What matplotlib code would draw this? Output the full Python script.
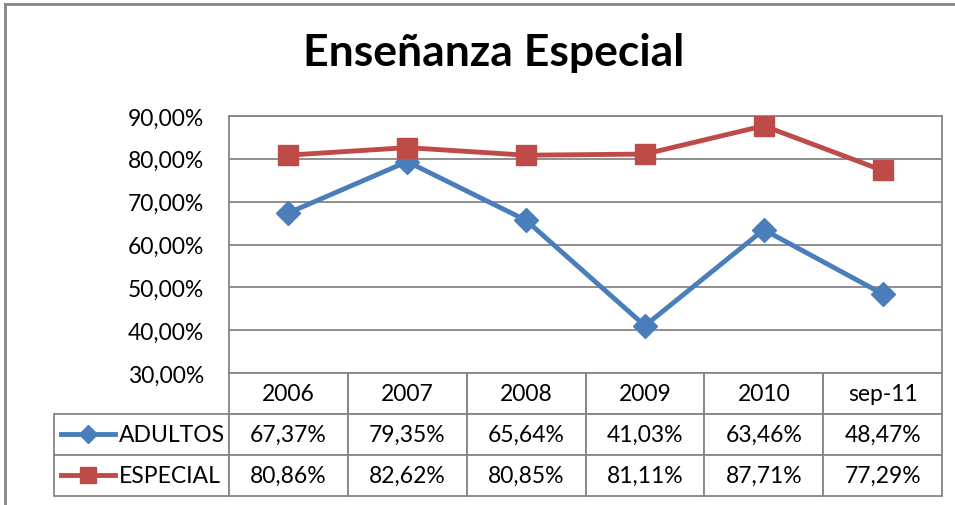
import matplotlib
matplotlib.use("Agg")
import matplotlib.pyplot as plt
from matplotlib.lines import Line2D

categories = ["2006", "2007", "2008", "2009", "2010", "sep-11"]
series_names = ["ADULTOS", "ESPECIAL"]
adultos = [67.37, 79.35, 65.64, 41.03, 63.46, 48.47]
especial = [80.86, 82.62, 80.85, 81.11, 87.71, 77.29]
yticks = [30, 40, 50, 60, 70, 80, 90]
title = "Enseñanza Especial"

colors = ["#4A7EBB", "#BE4B48"]
markers = ["D", "s"]
msizes = [12, 15]

W, H = 955, 506
fig = plt.figure(figsize=(W / 100, H / 100), dpi=100)
fig.patch.set_facecolor("white")
FONT = "Lato"

def fx(px):
    return px / W

def fy(py):
    return 1 - py / H

# outer chart frame (left and top visible)
fig.add_artist(Line2D([fx(5), fx(5)], [fy(5), 0], transform=fig.transFigure, color="#868686", lw=2))
fig.add_artist(Line2D([fx(5), 1], [fy(5), fy(5)], transform=fig.transFigure, color="#868686", lw=2))

L, R, T, B = 229, 942, 117, 374
ax = fig.add_axes([fx(L), fy(B), fx(R - L), (B - T) / H])
x = list(range(len(categories)))
for vals, c, m, ms, name in zip([adultos, especial], colors, markers, msizes, series_names):
    ax.plot(x, vals, color=c, lw=3.5, marker=m, markersize=ms, label=name, zorder=3)

ax.set_xlim(-0.5, len(categories) - 0.5)
ax.set_ylim(30, 90)
ax.set_yticks(yticks)
ax.set_yticklabels([f"{v:.2f}%".replace(".", ",") for v in yticks], fontsize=16.5, family=FONT)
ax.tick_params(axis="y", length=0, pad=18)
ax.set_xticks([])
ax.grid(axis="y", color="#868686", lw=1.3)
for s in ax.spines.values():
    s.set_color("#868686")
    s.set_linewidth(1.3)

fig.text(fx(494), fy(53), title, ha="center", va="center", fontsize=32, fontweight="bold", family=FONT)

# data table
rows = [[""] + categories]
for name, vals in zip(series_names, [adultos, especial]):
    rows.append([name] + [f"{v:.2f}%".replace(".", ",") for v in vals])

TL, TB = 54, 497
tbl_w = R - TL
tbl = ax.table(cellText=rows,
               colWidths=[(L - TL) / tbl_w] + [(R - L) / 6 / tbl_w] * 6,
               cellLoc="center",
               bbox=[(TL - L) / (R - L), -(TB - B) / (B - T), (R - TL) / (R - L), (TB - B) / (B - T)])
tbl.auto_set_font_size(False)
for (r, c), cell in tbl.get_celld().items():
    cell.set_edgecolor("#868686")
    cell.set_linewidth(1.3)
    cell.get_text().set_fontsize(16.5)
    cell.get_text().set_family(FONT)
    if r == 0 and c == 0:
        cell.visible_edges = "B"
        cell.set_edgecolor("white")
    if r == 0 and c > 0:
        cell.visible_edges = "BRL"
    if r > 0 and c == 0:
        cell.get_text().set_ha("left")
        cell.PAD = 65 / (L - TL)

# legend keys in the table
for i, (c, m, ms) in enumerate(zip(colors, markers, msizes)):
    yc = fy(435 + i * 41)
    fig.add_artist(Line2D([fx(61), fx(115)], [yc, yc], transform=fig.transFigure, color=c, lw=3.5))
    fig.add_artist(Line2D([fx(88)], [yc], transform=fig.transFigure, color=c, marker=m,
                          markersize=ms * 0.8, lw=0))

fig.savefig("out.png", dpi=100)
